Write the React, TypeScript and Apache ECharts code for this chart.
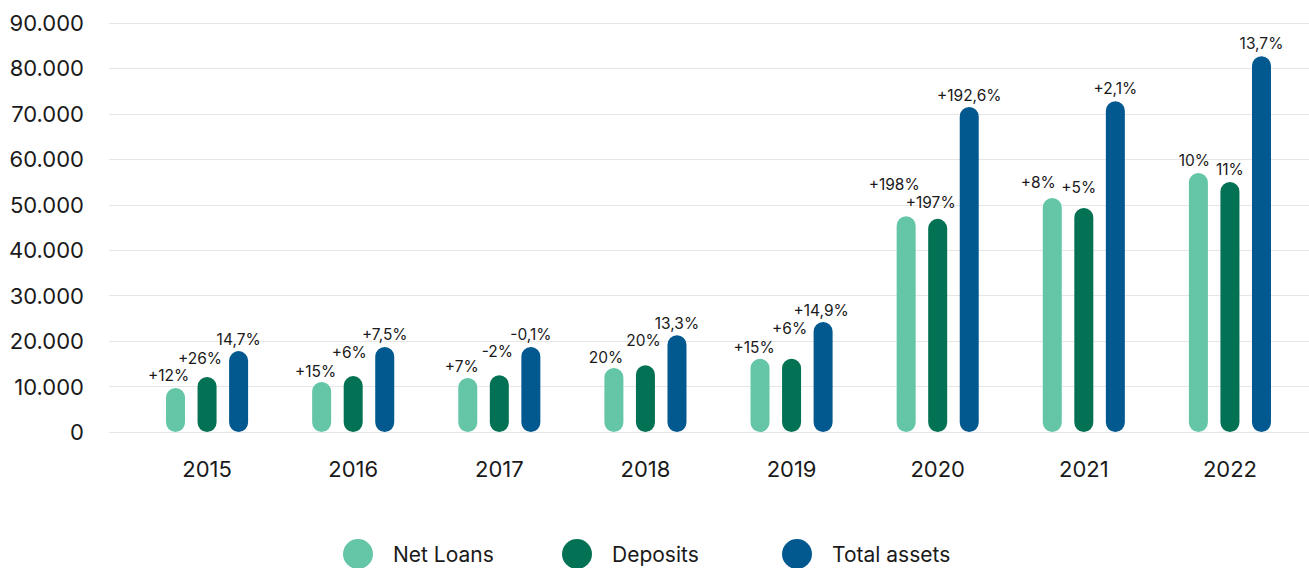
import React, { useEffect, useRef } from "react";
import * as echarts from "echarts";

const years = ["2015", "2016", "2017", "2018", "2019", "2020", "2021", "2022"];
const netLoans = [9700, 11000, 11900, 14100, 16100, 47500, 51500, 57000];
const deposits = [12100, 12300, 12500, 14700, 16100, 46900, 49300, 55000];
const totalAssets = [17800, 18700, 18700, 21300, 24200, 71500, 72800, 82700];
const netLoansLabels = ["+12%", "+15%", "+7%", "20%", "+15%", "+198%", "+8%", "10%"];
const depositsLabels = ["+26%", "+6%", "-2%", "20%", "+6%", "+197%", "+5%", "11%"];
const totalLabels = ["14,7%", "+7,5%", "-0,1%", "13,3%", "+14,9%", "+192,6%", "+2,1%", "13,7%"];
const seriesNames = ["Net Loans", "Deposits", "Total assets"];

// label nudges (style only)
const nlOffsets = [[-7, 0], [-6, 1], [-6, 1], [-8, 2], [-6, 1], [-12, -20], [-14, -3], [-4, 0]];
const depOffsets = [[-7, -7], [-4, -12], [-2, -12], [-2, -13], [-2, -18], [-7, -4], [-5, -8], [0, -1]];
const totOffsets = [[0, 0], [0, -1], [0, -1], [0, 0], [-2, 0], [0, 0], [0, -1], [0, -1]];
const legendLefts = [343, 562, 782];

const FONT = "Inter, 'Noto Sans', sans-serif";
const TEXT = "#1a1a1a";

function buildSeries(name: string, values: number[], labels: string[], offsets: number[][], color: string) {
  return {
    name,
    type: "bar",
    xAxisIndex: 1,
    yAxisIndex: 1,
    barWidth: 19,
    barGap: "66%",
    itemStyle: { color, borderRadius: 9.5 },
    data: values.map((v, i) => ({
      value: v,
      label: { formatter: labels[i], offset: offsets[i] },
    })),
    label: {
      show: true,
      position: "top",
      distance: 4,
      color: TEXT,
      fontFamily: FONT,
      fontSize: 15.5,
    },
  };
}

export default function App() {
  const ref = useRef<HTMLDivElement>(null);
  useEffect(() => {
    if (!ref.current) return;
    const chart = echarts.init(ref.current, undefined, { renderer: "svg" });
    const icon = "path://M0,10A10,10,0,1,1,20,10A10,10,0,1,1,0,10Z";
    chart.setOption({
      animation: false,
      backgroundColor: "#ffffff",
      textStyle: { fontFamily: FONT },
      grid: [
        { left: 109, right: 0, top: 23, bottom: 136 },
        { left: 134, width: 1169, top: 23, bottom: 136 },
      ],
      legend: seriesNames.map((n, i) => ({
        left: legendLefts[i],
        top: 539,
        padding: 0,
        itemWidth: 30,
        itemHeight: 30,
        itemGap: 0,
        icon,
        textStyle: {
          color: TEXT,
          fontFamily: FONT,
          fontSize: 21,
          padding: [0, 0, 0, 15],
        },
        data: [{ name: n, icon }],
      })),
      xAxis: [
        {
          type: "category",
          gridIndex: 0,
          data: years,
          show: false,
        },
        {
          type: "category",
          gridIndex: 1,
          data: years,
          axisLine: { show: false },
          axisTick: { show: false },
          axisLabel: { color: TEXT, fontFamily: FONT, fontSize: 22, margin: 26 },
        },
      ],
      yAxis: [
        {
          type: "value",
          gridIndex: 0,
          min: 0,
          max: 90000,
          interval: 10000,
          axisLine: { show: false },
          axisTick: { show: false },
          splitLine: { lineStyle: { color: "#e6e6e6", width: 1 } },
          axisLabel: {
            color: TEXT,
            fontFamily: FONT,
            fontSize: 22,
            margin: 25,
            formatter: (v: number) =>
              v === 0 ? "0" : String(v).replace(/\B(?=(\d{3})+(?!\d))/g, "."),
          },
        },
        {
          type: "value",
          gridIndex: 1,
          min: 0,
          max: 90000,
          interval: 10000,
          show: false,
          splitLine: { show: false },
        },
      ],
      series: [
        buildSeries("Net Loans", netLoans, netLoansLabels, nlOffsets, "#64c6a7"),
        buildSeries("Deposits", deposits, depositsLabels, depOffsets, "#037153"),
        buildSeries("Total assets", totalAssets, totalLabels, totOffsets, "#02598f"),
      ],
    });
    return () => chart.dispose();
  }, []);
  return (
    <div
      ref={ref}
      style={{ position: "fixed", left: 0, top: 0, width: 1309, height: 568, background: "#fff" }}
    />
  );
}
